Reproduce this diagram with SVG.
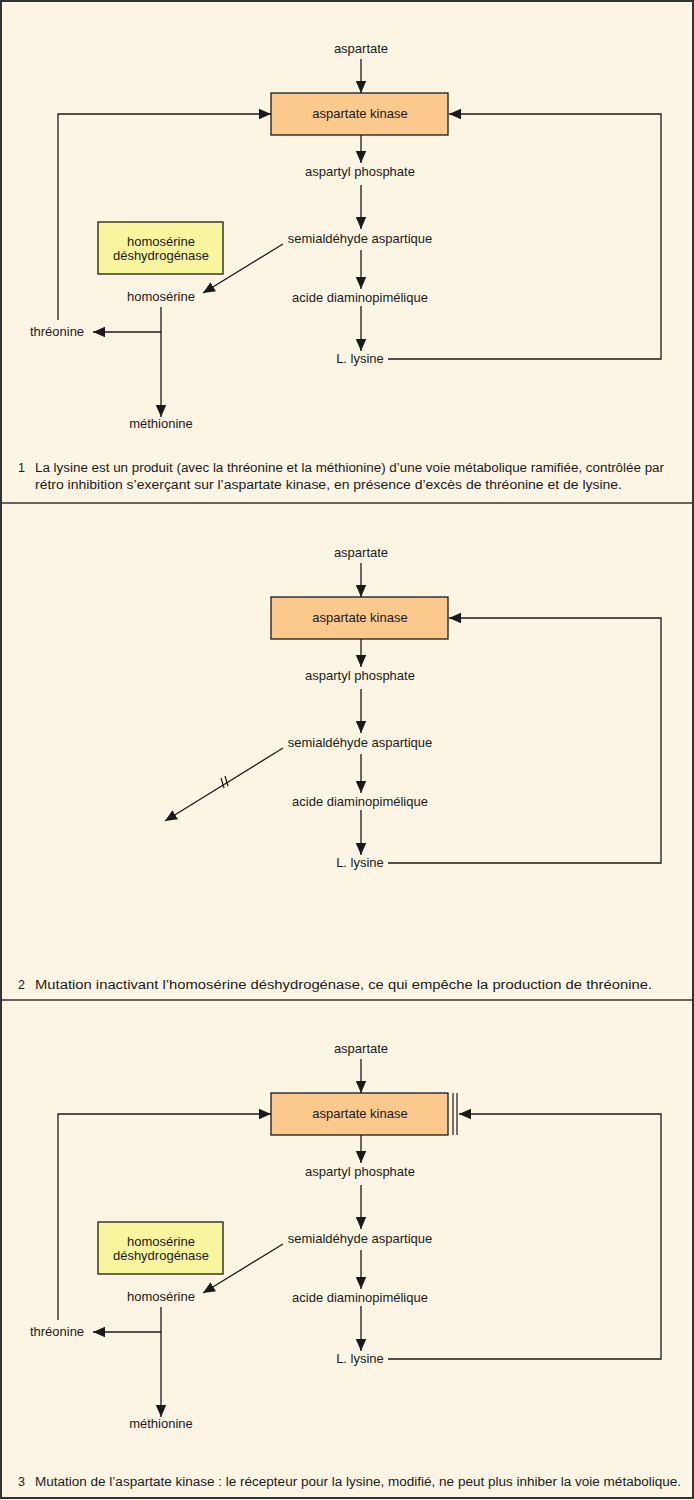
<svg xmlns="http://www.w3.org/2000/svg" width="694" height="1500" viewBox="0 0 694 1500">
<style>
text{font-family:"Liberation Sans",Arial,sans-serif;font-size:13px;fill:#1a1a1a}
.c{text-anchor:middle}
.cap{font-size:12.5px}
.ln{stroke:#1a1a1a;stroke-width:1.2;fill:none}
.arr{stroke:#1a1a1a;stroke-width:1.3;fill:none;marker-end:url(#ah)}
.ak{fill:#fbc98b;stroke:#1a1a1a;stroke-width:1.3}
.hd{fill:#f9f59f;stroke:#1a1a1a;stroke-width:1.3}
.sep{stroke:#333;stroke-width:1.5}
</style>
<defs>
<marker id="ah" markerUnits="userSpaceOnUse" markerWidth="12" markerHeight="12" viewBox="0 0 10 10" refX="10" refY="5" orient="auto">
<path d="M0,0.6 L10,5 L0,9.4 Z" fill="#1a1a1a"/>
</marker>
</defs>
<rect x="0" y="0" width="694" height="1500" fill="#fdf5e4"/>
<rect x="1" y="1" width="692" height="1497" fill="none" stroke="#333" stroke-width="2"/>
<line class="sep" x1="2" y1="503" x2="694" y2="503"/>
<line class="sep" x1="2" y1="1000" x2="694" y2="1000"/>

<!-- Panel 1 -->
<g id="p1">
<g id="p1-connectors">
<line class="arr" x1="361" y1="59" x2="361" y2="93"/>
<line class="arr" x1="361" y1="135" x2="361" y2="163"/>
<line class="arr" x1="361" y1="185" x2="361" y2="229"/>
<line class="arr" x1="361" y1="250" x2="361" y2="289"/>
<line class="arr" x1="361" y1="306" x2="361" y2="351"/>
<polyline class="arr" points="58,320 58,114 271,114"/>
<polyline class="arr" points="388,359 661,359 661,114 449,114"/>
<line class="arr" x1="283" y1="244" x2="203" y2="293"/>
<line class="arr" x1="161" y1="307" x2="161" y2="417"/>
<line class="arr" x1="161" y1="332" x2="93" y2="332"/>
</g>
<g id="p1-aspartate"><text class="c" x="361" y="53">aspartate</text></g>
<g id="p1-kinase"><rect class="ak" x="271" y="93" width="177" height="42"/><text class="c" x="360" y="118">aspartate kinase</text></g>
<g id="p1-phosphate"><text class="c" x="360" y="176">aspartyl phosphate</text></g>
<g id="p1-semi"><text class="c" x="360" y="243">semialdéhyde aspartique</text></g>
<g id="p1-acide"><text class="c" x="360" y="302">acide diaminopimélique</text></g>
<g id="p1-lysine"><text class="c" x="360" y="363">L. lysine</text></g>
<g id="p1-hd"><rect class="hd" x="98" y="222" width="125" height="52"/><text class="c" x="161" y="246">homosérine</text><text class="c" x="161" y="260">déshydrogénase</text></g>
<g id="p1-homoserine"><text class="c" x="161" y="301">homosérine</text></g>
<g id="p1-threonine"><text class="c" x="57" y="336">thréonine</text></g>
<g id="p1-methionine"><text class="c" x="161" y="428">méthionine</text></g>
<g id="p1-caption">
<text class="cap" x="18" y="472">1</text>
<text class="cap" x="35" y="472" textLength="629" lengthAdjust="spacingAndGlyphs">La lysine est un produit (avec la thréonine et la méthionine) d’une voie métabolique ramifiée, contrôlée par</text>
<text class="cap" x="35" y="489" textLength="587" lengthAdjust="spacingAndGlyphs">rétro inhibition s’exerçant sur l’aspartate kinase, en présence d’excès de thréonine et de lysine.</text>
</g>
</g>

<!-- Panel 2 -->
<g id="p2" transform="translate(0,504)">
<g id="p2-connectors">
<line class="arr" x1="361" y1="59" x2="361" y2="93"/>
<line class="arr" x1="361" y1="135" x2="361" y2="163"/>
<line class="arr" x1="361" y1="185" x2="361" y2="229"/>
<line class="arr" x1="361" y1="250" x2="361" y2="289"/>
<line class="arr" x1="361" y1="306" x2="361" y2="351"/>
<polyline class="arr" points="388,359 661,359 661,114 449,114"/>
<line class="arr" x1="283" y1="244" x2="165" y2="317"/>
<line class="ln" x1="221" y1="274" x2="224" y2="284"/>
<line class="ln" x1="225" y1="272" x2="228" y2="282"/>
</g>
<g id="p2-aspartate"><text class="c" x="361" y="53">aspartate</text></g>
<g id="p2-kinase"><rect class="ak" x="271" y="93" width="177" height="42"/><text class="c" x="360" y="118">aspartate kinase</text></g>
<g id="p2-phosphate"><text class="c" x="360" y="176">aspartyl phosphate</text></g>
<g id="p2-semi"><text class="c" x="360" y="243">semialdéhyde aspartique</text></g>
<g id="p2-acide"><text class="c" x="360" y="302">acide diaminopimélique</text></g>
<g id="p2-lysine"><text class="c" x="360" y="363">L. lysine</text></g>
<g id="p2-caption">
<text class="cap" x="18" y="485">2</text>
<text class="cap" x="35" y="485" textLength="617" lengthAdjust="spacingAndGlyphs">Mutation inactivant l’homosérine déshydrogénase, ce qui empêche la production de thréonine.</text>
</g>
</g>

<!-- Panel 3 -->
<g id="p3" transform="translate(0,1000)">
<g id="p3-connectors">
<line class="arr" x1="361" y1="59" x2="361" y2="93"/>
<line class="arr" x1="361" y1="135" x2="361" y2="163"/>
<line class="arr" x1="361" y1="185" x2="361" y2="229"/>
<line class="arr" x1="361" y1="250" x2="361" y2="289"/>
<line class="arr" x1="361" y1="306" x2="361" y2="351"/>
<polyline class="arr" points="58,320 58,114 271,114"/>
<polyline class="arr" points="388,359 661,359 661,114 459,114"/>
<line class="arr" x1="283" y1="244" x2="203" y2="293"/>
<line class="arr" x1="161" y1="307" x2="161" y2="417"/>
<line class="arr" x1="161" y1="332" x2="93" y2="332"/>
<line class="ln" x1="453" y1="93" x2="453" y2="135"/>
<line class="ln" x1="457" y1="93" x2="457" y2="135"/>
</g>
<g id="p3-aspartate"><text class="c" x="361" y="53">aspartate</text></g>
<g id="p3-kinase"><rect class="ak" x="271" y="93" width="177" height="42"/><text class="c" x="360" y="118">aspartate kinase</text></g>
<g id="p3-phosphate"><text class="c" x="360" y="176">aspartyl phosphate</text></g>
<g id="p3-semi"><text class="c" x="360" y="243">semialdéhyde aspartique</text></g>
<g id="p3-acide"><text class="c" x="360" y="302">acide diaminopimélique</text></g>
<g id="p3-lysine"><text class="c" x="360" y="363">L. lysine</text></g>
<g id="p3-hd"><rect class="hd" x="98" y="222" width="125" height="52"/><text class="c" x="161" y="246">homosérine</text><text class="c" x="161" y="260">déshydrogénase</text></g>
<g id="p3-homoserine"><text class="c" x="161" y="301">homosérine</text></g>
<g id="p3-threonine"><text class="c" x="57" y="336">thréonine</text></g>
<g id="p3-methionine"><text class="c" x="161" y="428">méthionine</text></g>
<g id="p3-caption">
<text class="cap" x="18" y="486">3</text>
<text class="cap" x="35" y="486" textLength="646" lengthAdjust="spacingAndGlyphs">Mutation de l’aspartate kinase : le récepteur pour la lysine, modifié, ne peut plus inhiber la voie métabolique.</text>
</g>
</g>
</svg>
